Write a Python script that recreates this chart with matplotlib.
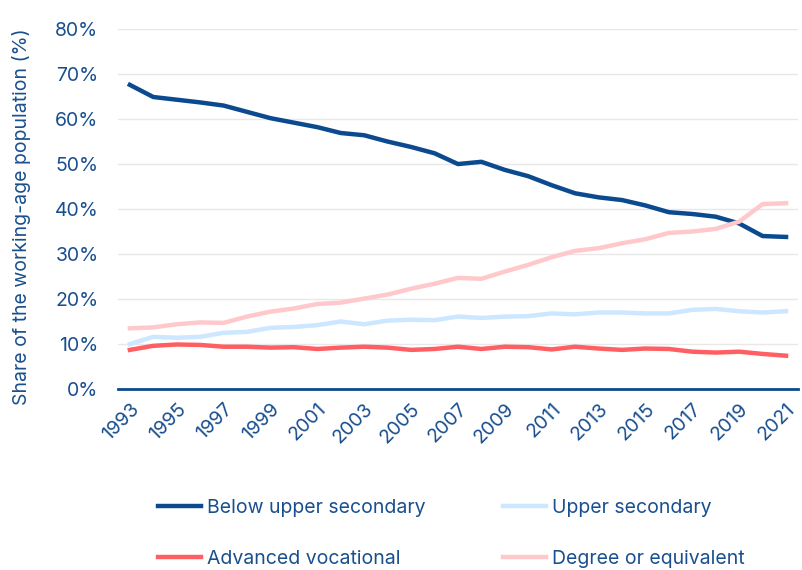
import matplotlib
matplotlib.use("Agg")
import matplotlib.pyplot as plt
from matplotlib.ticker import FuncFormatter

years = list(range(1993, 2022))

below_upper_secondary = [
    67.6, 64.9, 64.3, 63.7, 63.0, 61.6, 60.2, 59.2, 58.2, 56.9,
    56.4, 55.0, 53.8, 52.4, 50.0, 50.5, 48.7, 47.3, 45.3, 43.5,
    42.6, 42.0, 40.8, 39.3, 38.9, 38.3, 36.8, 34.0, 33.8,
]
upper_secondary = [
    10.0, 11.6, 11.4, 11.6, 12.5, 12.7, 13.6, 13.8, 14.2, 15.0,
    14.4, 15.2, 15.4, 15.3, 16.1, 15.8, 16.1, 16.2, 16.8, 16.6,
    17.0, 17.0, 16.8, 16.8, 17.6, 17.8, 17.3, 17.0, 17.3,
]
advanced_vocational = [
    8.7, 9.6, 9.9, 9.8, 9.4, 9.4, 9.2, 9.3, 8.9, 9.2,
    9.4, 9.2, 8.7, 8.9, 9.4, 8.9, 9.4, 9.3, 8.8, 9.4,
    9.0, 8.7, 9.0, 8.9, 8.3, 8.1, 8.3, 7.8, 7.4,
]
degree_or_equivalent = [
    13.5, 13.7, 14.4, 14.8, 14.7, 16.1, 17.2, 17.9, 18.9, 19.2,
    20.1, 21.0, 22.3, 23.4, 24.7, 24.5, 26.1, 27.6, 29.3, 30.7,
    31.3, 32.4, 33.3, 34.7, 35.0, 35.6, 37.2, 41.1, 41.3,
]

navy = "#0b4a8f"
text_color = "#1a4f8f"

plt.rcParams["font.family"] = ["Inter", "DejaVu Sans"]

fig = plt.figure(figsize=(8.02, 5.70), dpi=100)
ax = fig.add_axes([0.147, 0.3175, 0.848, 0.6315])

ax.plot(years, below_upper_secondary, color=navy, lw=3.2, label="Below upper secondary")
ax.plot(years, advanced_vocational, color="#ff5f62", lw=3.2, label="Advanced vocational")
ax.plot(years, upper_secondary, color="#cce7ff", lw=3.2, label="Upper secondary")
ax.plot(years, degree_or_equivalent, color="#ffc9cc", lw=3.2, label="Degree or equivalent")

ax.set_xlim(1992.49, 2021.51)
ax.set_ylim(0, 80)
ax.set_yticks(range(0, 81, 10))
ax.yaxis.set_major_formatter(FuncFormatter(lambda v, _: f"{v:.0f}%"))
ax.set_xticks(years[::2])
ax.set_xticklabels([str(y) for y in years[::2]], rotation=45, ha="right",
                   rotation_mode="anchor")

ax.grid(axis="y", color="#e8e8e8", lw=1)
ax.set_axisbelow(True)
for side in ["left", "right", "top"]:
    ax.spines[side].set_visible(False)
ax.spines["bottom"].set_color(navy)
ax.spines["bottom"].set_linewidth(2)
ax.tick_params(axis="both", length=0, colors=text_color, labelsize=14)
ax.tick_params(axis="y", pad=14)
ax.tick_params(axis="x", pad=8)

ax.set_ylabel("Share of the working-age population (%)", color=text_color, fontsize=14)
ax.yaxis.set_label_coords(-0.128, 0.48)

fig.legend(loc="upper left", bbox_to_anchor=(0.1875, 0.139), ncol=2, frameon=False,
           fontsize=14, labelcolor=text_color, handlelength=2.2, handletextpad=0.3,
           columnspacing=4.0, labelspacing=1.7, borderaxespad=0)

fig.savefig("out.png", dpi=100)
